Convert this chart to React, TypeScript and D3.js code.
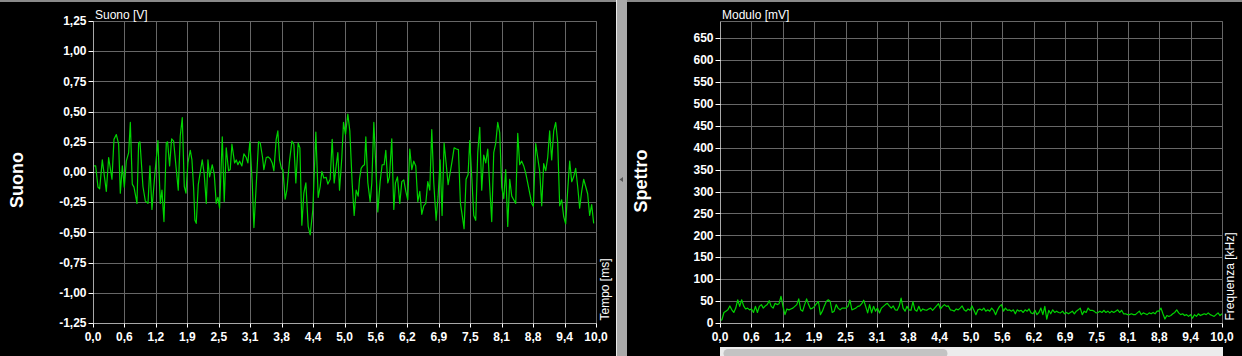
import React from 'react';
import * as d3 from 'd3';

const W = 1242;
const H = 356;

// Shared time / frequency axis ticks (0..10)
const timeTickValues = [0, 0.625, 1.25, 1.875, 2.5, 3.125, 3.75, 4.375, 5, 5.625, 6.25, 6.875, 7.5, 8.125, 8.75, 9.375, 10];
const timeTickLabels = ['0,0', '0,6', '1,2', '1,9', '2,5', '3,1', '3,8', '4,4', '5,0', '5,6', '6,2', '6,9', '7,5', '8,1', '8,8', '9,4', '10,0'];

// Left panel: sound (V) — sample times (ms) and values (V)
const soundTicks = [-1.25, -1, -0.75, -0.5, -0.25, 0, 0.25, 0.5, 0.75, 1, 1.25];
const soundTickLabels = ['-1,25', '-1,00', '-0,75', '-0,50', '-0,25', '0,00', '0,25', '0,50', '0,75', '1,00', '1,25'];
const soundTimes = [
  0, 0.053, 0.099, 0.132, 0.185, 0.265, 0.311, 0.377, 0.417, 0.464,
  0.510, 0.543, 0.583, 0.623, 0.662, 0.709, 0.742, 0.781, 0.815, 0.848,
  0.874, 0.907, 0.934, 0.993, 1.040, 1.093, 1.132, 1.172, 1.225, 1.291,
  1.338, 1.371, 1.411, 1.457, 1.483, 1.523, 1.563, 1.603, 1.649, 1.695,
  1.735, 1.775, 1.815, 1.848, 1.887, 1.934, 1.967, 2.000, 2.026, 2.053,
  2.093, 2.172, 2.212, 2.252, 2.285, 2.318, 2.371, 2.411, 2.450, 2.483,
  2.517, 2.570, 2.609, 2.649, 2.695, 2.728, 2.762, 2.815, 2.848, 2.881,
  2.914, 2.960, 3.000, 3.046, 3.079, 3.119, 3.166, 3.199, 3.245, 3.291,
  3.325, 3.371, 3.397, 3.444, 3.483, 3.523, 3.563, 3.596, 3.642, 3.675,
  3.709, 3.748, 3.775, 3.821, 3.854, 3.907, 3.954, 3.993, 4.033, 4.079,
  4.113, 4.152, 4.192, 4.232, 4.278, 4.318, 4.371, 4.430, 4.477, 4.517,
  4.550, 4.589, 4.636, 4.669, 4.715, 4.755, 4.795, 4.834, 4.868, 4.901,
  4.947, 4.980, 5.020, 5.066, 5.106, 5.152, 5.192, 5.232, 5.272,
  5.298, 5.331, 5.364, 5.397, 5.424, 5.464, 5.510, 5.543, 5.583, 5.623,
  5.662, 5.709, 5.748, 5.788, 5.821, 5.861, 5.894, 5.940, 5.980, 6.013,
  6.053, 6.099, 6.139, 6.179, 6.219, 6.258, 6.298, 6.338, 6.377, 6.417,
  6.457, 6.497, 6.536, 6.576, 6.616, 6.656, 6.695, 6.735, 6.775, 6.821,
  6.861, 6.901, 6.940, 6.980, 7.020, 7.060, 7.099, 7.139, 7.179, 7.225,
  7.265, 7.305, 7.344, 7.377, 7.417, 7.457, 7.490, 7.530, 7.570, 7.609,
  7.649, 7.689, 7.728, 7.768, 7.808, 7.848, 7.887, 7.927, 7.967, 8.007,
  8.046, 8.086, 8.126, 8.166, 8.205, 8.245, 8.285, 8.325, 8.364, 8.404,
  8.444, 8.483, 8.523, 8.563, 8.603, 8.642, 8.682, 8.722, 8.755, 8.801,
  8.841, 8.881, 8.921, 8.960, 9.000, 9.040, 9.079, 9.119, 9.159, 9.199,
  9.238, 9.278, 9.318, 9.358, 9.397, 9.437, 9.477, 9.517, 9.556, 9.596,
  9.636, 9.675, 9.715, 9.755, 9.795, 9.834, 9.874, 9.914, 9.954,
];
const soundValues = [
  0.05, 0.05, -0.125, -0.14, 0.10, -0.16, 0.12, -0.06, 0.27, 0.31,
  0.23, -0.175, 0.05, -0.125, 0.09, 0.16, 0.41, -0.10, -0.125, -0.20,
  -0.26, 0.24, 0.25, -0.12, -0.24, -0.26, 0.05, -0.31, -0.04, 0.26,
  -0.26, -0.15, -0.41, 0.24, 0.25, 0.05, 0.275, 0.255, 0.05, -0.15,
  0.30, 0.45, -0.12, -0.175, 0.075, 0.18, 0.10, -0.13, -0.40, -0.425,
  -0.105, 0.10, -0.02, -0.26, 0.10, -0.04, 0.06, -0.02, -0.26, -0.21,
  -0.30, 0.29, -0.245, 0.20, 0.01, 0.02, 0.23, 0.075, 0.10, 0.06,
  0.09, 0.05, 0.15, 0.12, 0.075, 0.25, -0.09, -0.46, -0.11, 0.25,
  0.24, 0.12, 0.02, 0.12, 0.125, 0.11, 0.075, 0.01, 0.27, 0.34,
  0.10, 0.025, 0.02, -0.225, -0.15, 0.09, 0.255, 0.23, -0.09, 0.24,
  0.20, -0.44, -0.175, -0.09, -0.45, -0.52, -0.31, 0.33, -0.21, -0.12,
  0.005, -0.05, -0.045, -0.10, -0.06, 0.27, -0.09, 0.05, 0.16, -0.15,
  0.12, 0.41, 0.31, 0.48, 0.34, -0.09, -0.36, -0.15, -0.20,
  -0.06, 0.03, 0.05, 0.06, 0.29, -0.09, -0.245, -0.09, 0.41, 0.05,
  -0.33, -0.08, 0.06, 0.06, 0.18, -0.09, -0.04, 0.275, -0.31, -0.09,
  -0.04, -0.26, -0.08, -0.065, -0.16, -0.23, 0.19, 0.02, 0.09, 0.05,
  -0.245, -0.16, -0.35, -0.28, -0.26, -0.08, -0.15, 0.35, -0.09, -0.40,
  -0.20, 0.10, -0.36, 0.24, 0.075, -0.105, -0.01, 0.09, 0.20, 0.19,
  0.185, -0.26, -0.37, -0.47, -0.06, -0.02, 0.26, -0.04, -0.36, -0.40,
  0.16, 0.37, -0.15, 0.14, 0.075, 0.19, -0.12, -0.41, 0.16, 0.24,
  0.41, 0.325, -0.125, -0.22, 0.02, -0.45, -0.06, -0.20, -0.23, -0.26,
  0.32, 0.06, 0.09, 0.05, -0.01, -0.09, -0.175, -0.26, -0.285, 0.235,
  0.12, 0.005, -0.28, 0.07, 0.01, 0.12, 0.34, 0.10, 0.34, 0.41,
  0.25, -0.28, -0.23, -0.37, -0.43, -0.15, 0.09, -0.08, -0.04, 0.03,
  -0.12, -0.30, -0.16, -0.06, -0.12, -0.18, -0.36, -0.27, -0.425,
];

// Right panel: spectrum (mV), evenly spaced over 0..10 kHz
const spectrumTicks = [0, 50, 100, 150, 200, 250, 300, 350, 400, 450, 500, 550, 600, 650];
const spectrumTickLabels = ['0', '50', '100', '150', '200', '250', '300', '350', '400', '450', '500', '550', '600', '650'];
const spectrumMax = 689;
const spectrumValues = [
  4, 8, 24, 27, 30, 39, 30, 24, 34, 53,
  38, 53, 39, 32, 34, 30, 32, 24, 38, 24,
  38, 42, 34, 39, 42, 51, 38, 34, 45, 42,
  44, 61, 38, 19, 32, 30, 32, 34, 38, 42,
  55, 30, 27, 42, 55, 42, 32, 34, 38, 44,
  49, 19, 27, 39, 49, 53, 49, 24, 27, 42,
  34, 30, 34, 34, 34, 38, 52, 30, 32, 34,
  38, 39, 44, 52, 38, 23, 42, 23, 38, 27,
  34, 23, 34, 38, 42, 45, 39, 34, 39, 30,
  29, 38, 57, 34, 27, 38, 30, 29, 49, 30,
  27, 38, 27, 32,
  30, 29, 32, 34, 29, 34, 39, 44, 32, 38,
  42, 38, 39, 30, 29, 27, 32, 30, 34, 39,
  30, 27, 32, 29, 39, 29, 19, 30, 32, 29,
  34, 27, 30, 27, 34, 29, 19, 30, 38, 42,
  27, 34, 29, 30, 27, 30, 21, 30, 27, 29,
  24, 30, 27, 32, 23, 21, 29, 19, 24, 34,
  19, 38, 9, 29, 21, 30, 24, 27, 24, 23,
  27, 21, 24, 21, 24, 27, 21, 27, 30, 34,
  19, 27, 24, 34, 29, 29, 27, 23, 24, 27,
  24, 29, 24, 27, 23, 27, 24, 27, 30, 24,
  29, 21, 21, 19, 19, 21, 19, 19, 23, 27,
  19, 23, 21, 19, 23, 21, 24, 21, 27, 27,
  34, 21, 9, 17, 15, 17, 21, 24, 30, 23,
  19, 21, 17, 19, 15, 19, 11, 19, 15, 21,
  17, 19, 21, 19, 23, 19, 17, 15, 19, 23,
  17, 21,
];
const spectrumTimes = spectrumValues.map((_, i) => (i * 10) / (spectrumValues.length - 1));

const FONT = '"Liberation Sans", Arial, Helvetica, sans-serif';
const GRID = '#676767';
const AXIS = '#a8a8a8';
const GREEN = '#00d400';

const snap = (v: number) => Math.round(v) + 0.5;

type PanelProps = {
  xRange: [number, number];
  yRange: [number, number];
  yDomain: [number, number];
  yTicks: number[];
  yLabels: string[];
  times: number[];
  values: number[];
  title: string;
  xTitle: string;
  xTitleX: number;
};

function Panel({ xRange, yRange, yDomain, yTicks, yLabels, times, values, title, xTitle, xTitleX }: PanelProps) {
  const x = d3.scaleLinear().domain([0, 10]).range(xRange);
  const y = d3.scaleLinear().domain(yDomain).range(yRange);
  const line = d3
    .line<number>()
    .x((_, i) => x(times[i]))
    .y((d) => y(d));
  const left = snap(xRange[0]);
  const right = snap(xRange[1]);
  const bottom = snap(yRange[0]);
  const top = snap(yRange[1]);
  return (
    <g>
      {timeTickValues.map((t, i) =>
        i === 0 ? null : (
          <line key={'vg' + i} x1={snap(x(t))} x2={snap(x(t))} y1={top} y2={bottom} stroke={GRID} strokeWidth={1} />
        )
      )}
      {yTicks.map((v, i) => (
        <line key={'hg' + i} x1={left} x2={right} y1={snap(y(v))} y2={snap(y(v))} stroke={GRID} strokeWidth={1} />
      ))}
      <line x1={left} x2={right} y1={top} y2={top} stroke={GRID} />
      <line x1={right} x2={right} y1={top} y2={bottom} stroke={GRID} />
      <path d={line(values) || ''} fill="none" stroke={GREEN} strokeWidth={1.2} strokeLinejoin="round" />
      <line x1={left} x2={left} y1={top} y2={bottom} stroke={AXIS} />
      <line x1={left} x2={right} y1={bottom} y2={bottom} stroke={AXIS} />
      {yTicks.map((v, i) => (
        <g key={'yt' + i}>
          <line x1={left - 5} x2={left} y1={snap(y(v))} y2={snap(y(v))} stroke="#fff" />
          <text x={left - 7} y={y(v)} dy="0.35em" textAnchor="end" fill="#fff" fontSize={12} fontWeight="bold" fontFamily={FONT}>
            {yLabels[i]}
          </text>
        </g>
      ))}
      {timeTickValues.map((t, i) => (
        <g key={'xt' + i}>
          <line x1={snap(x(t))} x2={snap(x(t))} y1={bottom} y2={bottom + 4} stroke="#fff" />
          <text x={x(t)} y={341} textAnchor="middle" fill="#fff" fontSize={12} fontWeight="bold" fontFamily={FONT}>
            {timeTickLabels[i]}
          </text>
        </g>
      ))}
      <text x={xRange[0] + 2} y={19} fill="#fff" fontSize={12} fontFamily={FONT}>
        {title}
      </text>
      <text transform={`translate(${xTitleX},320.5) rotate(-90)`} fill="#fff" fontSize={12} fontFamily={FONT}>
        {xTitle}
      </text>
    </g>
  );
}

export default function App() {
  return (
    <svg
      width={W}
      height={H}
      style={{ position: 'absolute', left: 0, top: 0, display: 'block', background: '#000' }}
    >
      <rect x={0} y={0} width={W} height={H} fill="#000" />
      <rect x={0} y={0} width={W} height={2} fill="#8a8a8a" />

      <text
        transform="translate(23,180) rotate(-90)"
        textAnchor="middle"
        fill="#fff"
        fontSize={18}
        fontWeight="bold"
        fontFamily={FONT}
      >
        Suono
      </text>
      <Panel
        xRange={[93, 596]}
        yRange={[323, 21]}
        yDomain={[-1.25, 1.25]}
        yTicks={soundTicks}
        yLabels={soundTickLabels}
        times={soundTimes}
        values={soundValues}
        title="Suono [V]"
        xTitle="Tempo [ms]"
        xTitleX={608.5}
      />

      <rect x={616} y={0} width={11} height={H} fill="#a9a9a9" />
      <rect x={616} y={0} width={1} height={H} fill="#e8e8e8" />
      <path d="M619.5,179.5 L623,177 L623,182 Z" fill="#555" />

      <text
        transform="translate(646.5,181) rotate(-90)"
        textAnchor="middle"
        fill="#fff"
        fontSize={18}
        fontWeight="bold"
        fontFamily={FONT}
      >
        Spettro
      </text>
      <Panel
        xRange={[720, 1222]}
        yRange={[323, 21]}
        yDomain={[0, spectrumMax]}
        yTicks={spectrumTicks}
        yLabels={spectrumTickLabels}
        times={spectrumTimes}
        values={spectrumValues}
        title="Modulo [mV]"
        xTitle="Frequenza [kHz]"
        xTitleX={1234}
      />

      <rect x={720} y={347} width={503} height={9} fill="#ececec" />
      <rect x={723.5} y={349} width={224} height={9} rx={4.5} fill="#c3c3c3" />
    </svg>
  );
}
